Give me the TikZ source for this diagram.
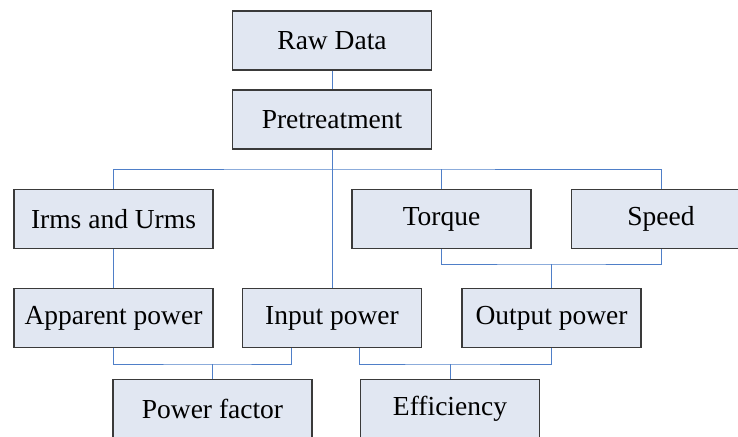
\documentclass[tikz,border=0pt]{standalone}
\usepackage{fontspec}
\setmainfont{Liberation Serif}
\definecolor{boxfill}{HTML}{E1E7F2}
\definecolor{boxline}{HTML}{3A3A3A}
\definecolor{linkblue}{HTML}{4F7FC8}
\begin{document}
\begin{tikzpicture}[x=1pt,y=-1pt,
  stepbox/.style={rectangle,draw=boxline,line width=1.3pt,fill=boxfill,inner sep=0pt,
    minimum height=59pt,font=\fontsize{27.5}{30}\selectfont},
  wide/.style={minimum width=199pt},
  narrow/.style={minimum width=179pt},
  link/.style={draw=linkblue,line width=1pt}]
\useasboundingbox (0,0) rectangle (738,436);
\node[stepbox,wide] (raw) at (332,40.5) {Raw Data};
\node[stepbox,wide] (pre) at (332,119.5) {Pretreatment};
\node[stepbox,wide] (irms) at (113.5,219) {Irms and Urms};
\node[stepbox,narrow] (torque) at (441.5,219) {Torque};
\node[stepbox,narrow] (speed) at (661,219) {Speed};
\node[stepbox,wide] (app) at (113.5,318) {Apparent power};
\node[stepbox,narrow] (input) at (332,318) {Input power};
\node[stepbox,narrow] (output) at (551.5,318) {Output power};
\node[stepbox,wide] (pf) at (212.5,409) {Power factor};
\node[stepbox,narrow] (eff) at (450,409) {Efficiency};
\coordinate (bus) at (332,169);
\coordinate (j1) at (551.5,264);
\coordinate (j2) at (212.5,364);
\coordinate (j3) at (450,364);
\begin{scope}[on background layer/.style={}]
\draw[link] (raw.south) -- (pre.north);
\draw[link] (pre.south) -- (input.north);
\draw[link] (irms.north) |- (bus) -| (speed.north);
\draw[link] (torque.north) -- (torque.north |- bus);
\draw[link] (irms.south) -- (app.north);
\draw[link] (torque.south) |- (j1) -| (speed.south);
\draw[link] (j1) -- (output.north);
\draw[link] (app.south) |- (j2) -| ([xshift=50pt]input.south west);
\draw[link] (j2) -- (pf.north);
\draw[link] ([xshift=118pt]input.south west) |- (j3) -| (output.south);
\draw[link] (j3) -- (eff.north);
\end{scope}
\end{tikzpicture}
\end{document}
